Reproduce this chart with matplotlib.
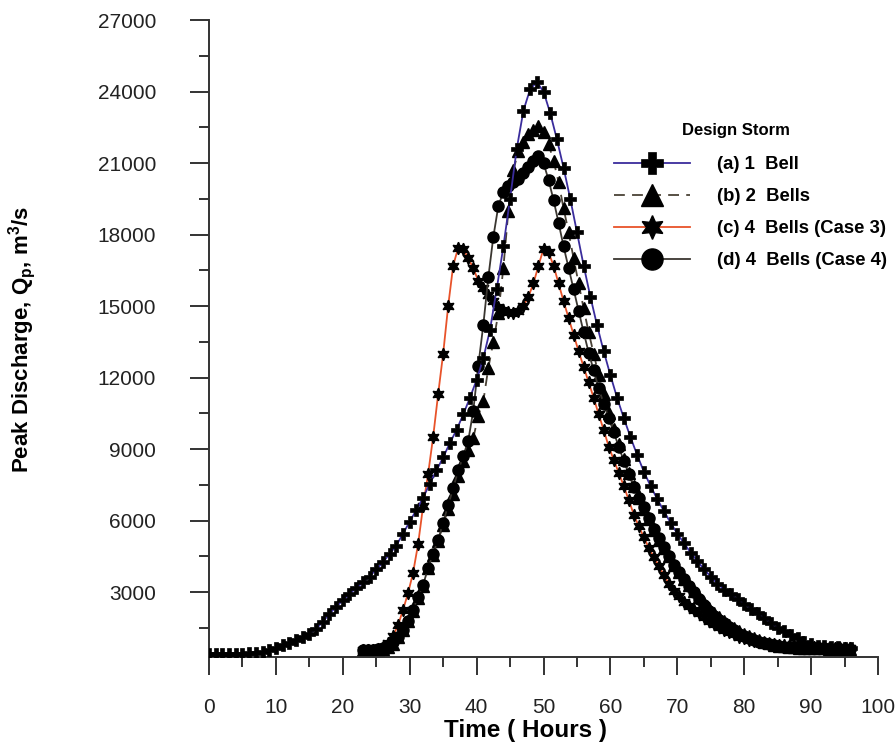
import numpy as np
import matplotlib
matplotlib.use("Agg")
import matplotlib.pyplot as plt

plt.rcParams.update({"font.family": ["Liberation Sans", "DejaVu Sans"], "font.size": 15})

# ---- data read off the hydrograph (hours, m3/s) ----
# (a) sampled every hour
t_a = list(range(0, 97))
q_a = [380, 380, 385, 390, 400, 410, 430, 460, 500, 570,
       660, 760, 860, 970, 1100, 1250, 1450, 1750, 2080, 2380,
       2650, 2920, 3170, 3400, 3650, 3950, 4250, 4600, 4950, 5450,
       5950, 6450, 6950, 7550, 8100, 8650, 9250, 9800, 10450, 11150,
       11900, 12800, 14000, 15700, 17500, 19500, 21600, 23200, 24100, 24400,
       24000, 23100, 22000, 20800, 19500, 18100, 16700, 15400, 14200, 13100,
       12100, 11150, 10300, 9500, 8750, 8050, 7450, 6900, 6400, 5900,
       5450, 5050, 4650, 4300, 3950, 3650, 3350, 3100, 2900, 2700,
       2500, 2300, 2100, 1900, 1700, 1500, 1350, 1200, 1050, 900,
       800, 750, 720, 700, 680, 660, 650]

# (b), (c), (d) sampled every 45 min from hour 23
t_bcd = [23 + 0.75 * i for i in range(98)]
q_b = [550, 555, 565, 580, 620, 700, 830, 1100, 1400, 1800,
       2200, 2750, 3250, 4000, 4550, 5150, 5800, 6500, 7100, 7850,
       8500, 8950, 9450, 10400, 11000, 12400, 13500, 14700, 16600, 19000,
       20700, 21500, 21900, 22200, 22400, 22550, 22300, 21800, 21100, 20200,
       19100, 18100, 17000, 15950, 14900, 13900, 13000, 12100, 11300, 10500,
       9850, 9200, 8600, 8000, 7450, 6950, 6500, 6050, 5600, 5200,
       4850, 4500, 4150, 3850, 3550, 3300, 3050, 2800, 2550, 2330,
       2130, 1950, 1780, 1630, 1490, 1360, 1250, 1150, 1060, 980,
       900, 840, 790, 750, 720, 700, 680, 665, 650, 640,
       635, 630, 630, 625, 620, 620, 620, 620]
q_c = [550, 555, 570, 600, 680, 850, 1150, 1600, 2250, 2950,
       3800, 5000, 6600, 7950, 9500, 11300, 13000, 15000, 16700, 17450,
       17400, 17000, 16600, 16050, 15750, 15450, 15200, 14980, 14850, 14740,
       14720, 14780, 15000, 15400, 15950, 16700, 17400, 17250, 16700, 15950,
       15200, 14500, 13800, 13100, 12450, 11800, 11150, 10450, 9800, 9100,
       8550, 8000, 7450, 6850, 6250, 5750, 5300, 4850, 4450, 4100,
       3700, 3350, 3050, 2850, 2600, 2400, 2250, 2100, 1950, 1800,
       1650, 1530, 1420, 1320, 1220, 1130, 1050, 990, 940, 890,
       860, 830, 800, 780, 760, 745, 730, 715, 700, 685,
       675, 665, 660, 655, 650, 645, 640, 640]
q_d = [550, 555, 565, 590, 640, 750, 900, 1130, 1400, 1800,
       2250, 2800, 3300, 4000, 4600, 5200, 5900, 6650, 7350, 8100,
       8700, 9350, 10600, 12500, 14200, 16200, 17900, 19200, 19800, 20050,
       20200, 20350, 20600, 20850, 21100, 21300, 21000, 20300, 19450, 18500,
       17500, 16600, 15700, 14800, 13900, 13050, 12300, 11550, 10900, 10300,
       9700, 9100, 8500, 7950, 7400, 6950, 6550, 6100, 5650, 5250,
       4900, 4500, 4150, 3850, 3550, 3250, 2980, 2700, 2450, 2220,
       2000, 1830, 1680, 1530, 1390, 1250, 1150, 1060, 980, 910,
       850, 800, 760, 730, 710, 695, 680, 665, 650, 640,
       635, 630, 630, 625, 620, 620, 620, 620]

labels = ["(a) 1  Bell", "(b) 2  Bells", "(c) 4  Bells (Case 3)", "(d) 4  Bells (Case 4)"]

fig = plt.figure(figsize=(8.96, 7.46), dpi=100)
ax = fig.add_axes([209/896, 1-656.7/746, 669/896, 636.6/746])

star6 = (6, 1, 0)
ax.plot(t_a, q_a, color="#3a2c9c", lw=1.3, marker="P", ms=8, mfc="black", mec="black",
        mew=0.5, label=labels[0], zorder=3)
ax.plot(t_bcd, q_b, color="#4a4236", lw=1.3, ls=(0, (6, 4)), marker="^", ms=8,
        mfc="black", mec="black", label=labels[1], zorder=2)
ax.plot(t_bcd, q_c, color="#e8532a", lw=1.3, marker=star6, ms=9, mfc="black", mec="black",
        label=labels[2], zorder=2)
ax.plot(t_bcd, q_d, color="#3a3630", lw=1.3, marker="o", ms=8, mfc="black", mec="black",
        label=labels[3], zorder=2)

ax.set_xlim(0, 100)
ax.set_ylim(285, 27000)
ax.set_xticks(np.arange(0, 101, 10))
ax.set_xticks(np.arange(5, 100, 10), minor=True)
ax.set_yticks(np.arange(3000, 27001, 3000))
ax.set_yticks(np.arange(1500, 27000, 3000), minor=True)

for s in ("top", "right"):
    ax.spines[s].set_visible(False)
for s in ("left", "bottom"):
    ax.spines[s].set_linewidth(1.4)
    ax.spines[s].set_color("#333333")

ax.tick_params(axis="both", which="both", direction="out", color="#333333", width=1.4,
               labelcolor="#222222", labelsize=15)
ax.tick_params(axis="x", which="major", length=13, pad=16.5)
ax.tick_params(axis="x", which="minor", length=7)
ax.tick_params(axis="y", which="major", length=14, pad=24)
ax.tick_params(axis="y", which="minor", length=7)

fig.text(525/896, 1-730/746, "Time ( Hours )", fontsize=17.5, fontweight="bold",
         ha="center", va="center")
fig.text(22/896, 1-340/746, r"Peak Discharge, Q$_\mathregular{p}$, m$^\mathregular{3}$/s",
         fontsize=16, fontweight="bold", rotation=90, ha="center", va="center")

leg = ax.legend(loc="upper left", bbox_to_anchor=((614-209)/669, (656.7-156)/636.6),
                frameon=False, fontsize=13.3, markerscale=1.9, handlelength=4.1,
                handletextpad=1.45, labelspacing=0.82, borderpad=0, borderaxespad=0)
for txt in leg.get_texts():
    txt.set_fontweight("bold")
fig.text(736/896, 1-130/746, "Design Storm", fontsize=12, fontweight="bold",
         ha="center", va="center")

fig.savefig("out.png", dpi=100)
